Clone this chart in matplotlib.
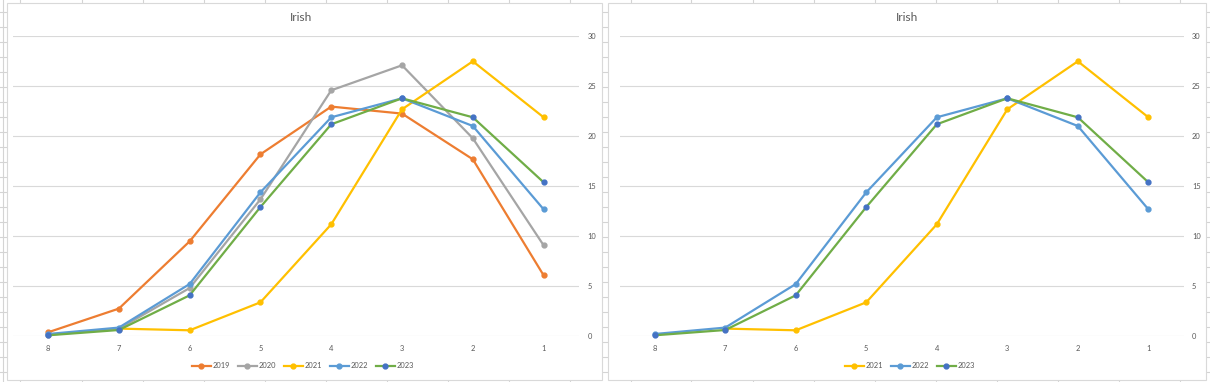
import numpy as np
import matplotlib
matplotlib.use("Agg")
import matplotlib.pyplot as plt
from matplotlib.lines import Line2D
from matplotlib.patches import Rectangle

# ---- data ----
categories = ["8", "7", "6", "5", "4", "3", "2", "1"]
y2019 = [0.4, 2.77, 9.5, 18.2, 22.97, 22.27, 17.7, 6.1]
y2020 = [0.15, 0.75, 4.83, 13.7, 24.6, 27.1, 19.8, 9.1]
y2021 = [np.nan, 0.77, 0.6, 3.4, 11.2, 22.7, 27.5, 21.9]
y2022 = [0.23, 0.87, 5.23, 14.4, 21.9, 23.8, 21.03, 12.7]
y2023 = [0.1, 0.63, 4.1, 12.93, 21.2, 23.8, 21.9, 15.4]
y_ticks = [0, 5, 10, 15, 20, 25, 30]
title_text = "Irish"

series_left = [("2019", y2019), ("2020", y2020), ("2021", y2021), ("2022", y2022), ("2023", y2023)]
series_right = [("2021", y2021), ("2022", y2022), ("2023", y2023)]

line_col = {"2019": "#ED7D31", "2020": "#A5A5A5", "2021": "#FFC000", "2022": "#5B9BD5", "2023": "#70AD47"}
mark_col = {"2019": "#ED7D31", "2020": "#A5A5A5", "2021": "#FFC000", "2022": "#5B9BD5", "2023": "#4472C4"}

W, H = 1210, 382
plt.rcParams['font.family'] = ['Lato', 'DejaVu Sans']
fig = plt.figure(figsize=(W / 100, H / 100), dpi=100)
fig.patch.set_facecolor("white")

cell_col = "#d4d4d4"

def fx(x):
    return x / W

def fy(y):
    return 1 - y / H

# spreadsheet cell lines in background
rows = np.arange(11.7, H, 15)
for y in rows:
    for (x0, x1) in [(0, 7), (602, 608), (1206, W)]:
        fig.add_artist(Line2D([fx(x0), fx(x1)], [fy(y), fy(y)], color=cell_col, lw=0.8, zorder=-3))
cols = 20.5 + 61 * np.arange(0, 20)
for x in cols:
    for (y0, y1) in [(0, 2.5), (380, H)]:
        fig.add_artist(Line2D([fx(x), fx(x)], [fy(y0), fy(y1)], color=cell_col, lw=0.8, zorder=-3))
fig.add_artist(Line2D([fx(2.7), fx(2.7)], [0, 1], color=cell_col, lw=0.8, zorder=-3))

# chart borders
for (x0, x1) in [(7, 602), (608, 1206)]:
    fig.add_artist(Rectangle((fx(x0), fy(380)), fx(x1 - x0), (380 - 2.5) / H,
                             facecolor="white", edgecolor="#d9d9d9", lw=0.8, zorder=-2))

txt_col = "#595959"
grid_col = "#d9d9d9"


def draw(ax_left_px, ax_right_px, series, title_x, legend_x):
    ax = fig.add_axes([fx(ax_left_px), fy(336.3), fx(ax_right_px - ax_left_px), 300 / H])
    ax.set_zorder(2)
    ax.set_facecolor("none")
    x = np.arange(len(categories))
    for name, vals in series:
        ax.plot(x, vals, color=line_col[name], lw=1.6, marker="o", markersize=3.5,
                markerfacecolor=mark_col[name], markeredgecolor=mark_col[name], label=name,
                solid_joinstyle="round", clip_on=False)
    ax.set_xlim(-0.5, len(categories) - 0.5)
    ax.set_ylim(0, 30)
    ax.set_xticks(x)
    ax.set_xticklabels(categories)
    ax.set_yticks(y_ticks)
    ax.yaxis.tick_right()
    ax.tick_params(axis="both", length=0, labelsize=5.4, colors=txt_col)
    ax.tick_params(axis="y", pad=6)
    ax.tick_params(axis="x", pad=6)
    for s in ax.spines.values():
        s.set_visible(False)
    ax.grid(axis="y", color=grid_col, lw=0.8)
    ax.set_axisbelow(True)
    fig.text(fx(title_x), fy(17.7), title_text, ha="center", va="center", fontsize=8.6, color=txt_col, zorder=3)
    handles, labels = ax.get_legend_handles_labels()
    leg = fig.legend(handles, labels, loc="center", bbox_to_anchor=(fx(legend_x), fy(365.7)),
                     ncol=len(series), frameon=False, fontsize=5.4, labelcolor=txt_col,
                     handlelength=2.5, handletextpad=0.3, columnspacing=1.0, borderpad=0)
    leg.set_zorder(3)
    return ax


draw(12.7, 579, series_left, 301, 303)
draw(619.5, 1183.6, series_right, 907, 910)

fig.savefig("out.png", dpi=100, facecolor="white")
